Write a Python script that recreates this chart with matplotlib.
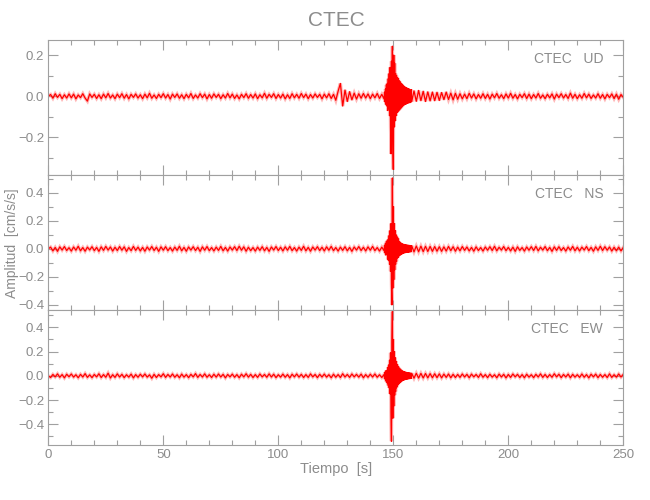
"""
CTEC accelerogram - three components (UD, NS, EW)
Red traces on white, grey IDL-like frame.
"""

import numpy as np
import matplotlib.pyplot as plt
from matplotlib.ticker import MultipleLocator

# -----------------------------------------------------------------------
# DATA (in 1e-3 cm/s/s)
# a: 0..146 s every 1 s | b: 146.2..158 s every 0.2 s | c: 159..250 s every 1 s
# -----------------------------------------------------------------------
ud_a = [0, 8, -10, 12, -6, 9, -12, 7, -9, 11,
        -8, 10, -13, 6, -7, 12, -9, -24, 11, -6,
        9, -11, 7, -12, 10, -8, 13, -9, 6, -12,
        10, -7, 12, -10, 8, -13, 9, -6, 11, -9,
        7, -12, 10, -8, 14, -10, 6, -11, 9, -7,
        12, -9, 8, -14, 10, -6, 11, -10, 7, -12,
        9, -8, 13, -11, 6, -9, 12, -7, 10, -13,
        8, -10, 11, -6, 9, -12, 7, -9, 13, -8,
        10, -11, 6, -13, 9, -7, 12, -10, 8, -9,
        11, -12, 7, -8, 14, -10, 9, -6, 12, -11,
        8, -9, 10, -13, 7, -11, 12, -8, 9, -10,
        13, -7, 10, -12, 8, -9, 11, -6, 9, -13,
        10, -8, 12, -11, 9, -20, 24, 62, -48, 30,
        -26, 22, -18, 15, -14, 12, -10, 13, -9, 11,
        -12, 10, -8, 13, -11, 9, -14]
ud_b = [20, -28, 35, -40, 55, -48, 62, -70, 85, -60,
        110, -95, 140, -150, -280, 170, -200, 243, -220, -356,
        200, -150, 160, -120, 110, -95, 100, -80, 90, -75,
        85, -70, 75, -65, 70, -60, 62, -55, 58, -50,
        52, -45, 48, -42, 45, -40, 42, -38, 40, -35,
        38, -34, 36, -30, 34, -32, 30, -28, 32, -27]
ud_c = [26, -25, 28, -22, 24, -26, 21, -23, 20, -22,
        19, -21, 18, -17, 20, -16, 15, -18, 14, -15,
        12, -13, 10, -12, 14, -9, 11, -13, 8, -10,
        12, -11, 9, -14, 10, -8, 13, -10, 7, -12,
        11, -9, 14, -10, 8, -13, 9, -7, 12, -11,
        10, -12, 8, -9, 13, -10, 6, -12, 9, -8,
        11, -14, 10, -7, 12, -9, 8, -11, 15, -10,
        9, -12, 7, -10, 13, -8, 10, -11, 6, -9,
        12, -10, 8, -13, 9, -7, 11, -12, 10, -15,
        8, -6]

ns_a = [0, 12, -15, 10, -18, 14, -9, 16, -12, 8,
        -16, 13, -10, 18, -14, 9, -17, 12, -8, 15,
        -13, 10, -18, 14, -11, 17, -9, 13, -16, 11,
        -12, 16, -10, 14, -18, 9, -13, 17, -11, 12,
        -15, 10, -17, 13, -9, 16, -12, 11, -18, 14,
        -10, 15, -13, 9, -16, 12, -11, 18, -14, 10,
        -17, 13, -9, 15, -12, 11, -18, 14, -10, 16,
        -13, 9, -15, 12, -11, 17, -14, 10, -16, 13,
        -9, 15, -12, 18, -10, 14, -17, 11, -13, 9,
        -16, 12, -11, 15, -14, 10, -18, 13, -9, 16,
        -12, 11, -15, 14, -10, 17, -13, 9, -16, 12,
        -11, 18, -14, 10, -17, 13, -9, 15, -12, 11,
        -15, 14, -10, 17, -13, 9, -16, 12, -11, 15,
        -14, 10, -18, 13, -9, 16, -12, 11, -15, 14,
        -10, 17, -13, 9, -16, 12, -14]
ns_b = [25, -30, 38, -45, 52, -40, 60, -75, 68, -85,
        95, -110, 130, -160, 180, -250, -400, 505, -280, 300,
        -220, 180, -150, 130, -110, 100, -90, 86, -66, 75,
        -60, 55, -50, 48, -45, 42, -40, 38, -36, 35,
        -33, 32, -30, 31, -28, 30, -27, 28, -26, 27,
        -25, 26, -24, 25, -23, 24, -22, 23, -21, 22]
ns_c = [-22, 20, -21, 19, -20, 18, -19, 17, -18, 16,
        -17, 15, -18, 14, -16, 17, -13, 15, -17, 12,
        -14, 16, -11, 13, -15, 10, -17, 14, -12, 9,
        -16, 13, -10, 15, -12, 18, -14, 11, -9, 16,
        -13, 10, -15, 12, -18, 14, -11, 9, -16, 13,
        -10, 15, -12, 17, -14, 11, -9, 16, -13, 10,
        -18, 14, -11, 15, -12, 9, -16, 13, -10, 17,
        -14, 11, -15, 12, -9, 16, -13, 10, -17, 14,
        -11, 18, -12, 15, -10, 13, -16, 11, -14, 12,
        -15, 10]

ew_a = [0, -14, 11, -9, 16, -12, 10, -17, 13, -8,
        15, -11, 9, -16, 12, -10, 18, -13, 8, -15,
        11, -9, 17, -14, 10, -12, 22, -18, 9, -13,
        16, -10, 12, -15, 9, -11, 14, -17, 10, -12,
        13, -9, 15, -11, 8, -20, 12, -14, 10, -9,
        17, -13, 11, -10, 15, -12, 9, -16, 14, -11,
        10, -15, 12, -9, 18, -13, 11, -10, 16, -12,
        9, -14, 13, -11, 15, -10, 12, -17, 11, -9,
        14, -12, 10, -16, 13, -9, 17, -11, 12, -14,
        10, -13, 15, -9, 11, -12, 16, -10, 13, -15,
        9, -11, 14, -12, 10, -17, 13, -9, 15, -11,
        12, -14, 10, -13, 16, -9, 11, -15, 12, -10,
        14, -11, 9, -16, 13, -12, 10, -14, 17, -10,
        11, -13, 15, -9, 12, -11, 14, -16, 10, -12,
        13, -10, 15, -12, 9, -14, 11]
ew_b = [-22, 30, -35, 42, -50, 45, -60, 70, -80, 90,
        -100, 130, -150, 190, -300, -540, 280, 530, -350, 300,
        -250, 200, -160, 150, -130, 120, -100, 95, -85, 80,
        -70, 68, -62, 60, -55, 52, -48, 45, -42, 40,
        -38, 36, -35, 34, -32, 31, -30, 29, -28, 27,
        -27, 26, -25, 25, -24, 23, -23, 22, -22, 21]
ew_c = [-20, 21, -19, 20, -18, 19, -17, 18, -16, 17,
        -15, 16, -17, 14, -13, 15, -16, 12, -14, 11,
        -13, 15, -10, 12, -16, 14, -9, 11, -13, 17,
        -12, 10, -15, 13, -11, 9, -16, 14, -10, 12,
        -17, 11, -13, 15, -9, 12, -14, 10, -16, 13,
        -11, 9, -15, 12, -10, 16, -13, 11, -14, 10,
        -12, 17, -9, 13, -15, 11, -10, 14, -16, 12,
        -11, 9, -13, 15, -12, 10, -17, 13, -9, 14,
        -15, 11, -12, 10, -14, 16, -13, 9, -11, 15,
        -10, 12]

STATION = "CTEC"
COMPONENTS = ["UD", "NS", "EW"]
YLIMS = [(-0.383, 0.273), (-0.436, 0.526), (-0.571, 0.543)]


def trace(a, b, c):
    t = np.concatenate([np.arange(len(a)) * 1.0,
                        146.0 + 0.2 * (np.arange(len(b)) + 1),
                        159.0 + np.arange(len(c)) * 1.0])
    v = np.concatenate([a, b, c]) / 1000.0
    return t, v


traces = [trace(ud_a, ud_b, ud_c),
          trace(ns_a, ns_b, ns_c),
          trace(ew_a, ew_b, ew_c)]

# -----------------------------------------------------------------------
# STYLE
# -----------------------------------------------------------------------
GREY = "#8c8c8c"
FRAME = "#a0a0a0"
plt.rcParams.update({
    "font.family": ["Liberation Sans Narrow", "Liberation Sans", "DejaVu Sans"],
    "text.color": GREY,
    "axes.edgecolor": FRAME,
    "xtick.color": FRAME,
    "ytick.color": FRAME,
    "xtick.labelcolor": GREY,
    "ytick.labelcolor": GREY,
    "font.size": 10,
})

fig = plt.figure(figsize=(6.5, 5.0), dpi=100)
left, width = 48.3 / 650, 575 / 650
panel_h = 135 / 500
bottom0 = 55 / 500

for i, ((t, v), comp, ylim) in enumerate(zip(traces, COMPONENTS, YLIMS)):
    b = bottom0 + (2 - i) * panel_h
    ax = fig.add_axes([left, b, width, panel_h])
    # pink halo + red core, like the anti-aliased dense trace
    ax.plot(t, v, color="#ff6060", lw=2.4, alpha=0.45, solid_joinstyle="miter")
    ax.plot(t, v, color="red", lw=0.9)
    ax.set_xlim(0, 250)
    ax.set_ylim(*ylim)
    ax.xaxis.set_major_locator(MultipleLocator(50))
    ax.xaxis.set_minor_locator(MultipleLocator(10))
    ax.yaxis.set_major_locator(MultipleLocator(0.2))
    ax.yaxis.set_minor_locator(MultipleLocator(0.1))
    ax.tick_params(which="both", direction="in", top=True, right=True, width=0.8)
    ax.tick_params(which="major", length=7, labelsize=9.5, pad=3)
    ax.tick_params(which="minor", length=3.5)
    ax.yaxis.set_major_formatter(lambda y, p: f"{y:.1f}".replace("-", "\u2212"))
    if i < 2:
        ax.tick_params(labelbottom=False)
    for s in ax.spines.values():
        s.set_linewidth(0.8)
    ax.text(0.965, 0.86, f"{STATION}   {comp}", transform=ax.transAxes,
            ha="right", va="center", fontsize=10, color=GREY)

fig.text(336 / 650, 1 - 20 / 500, STATION, ha="center", va="center",
         fontsize=15, color=GREY)
fig.text(12 / 650, 1 - 243 / 500, "Amplitud  [cm/s/s]", rotation=90,
         ha="center", va="center", fontsize=10, color=GREY)
fig.text(336 / 650, 1 - 469 / 500, "Tiempo  [s]", ha="center", va="center",
         fontsize=10.5, color=GREY)

plt.savefig("out.png", dpi=100)
